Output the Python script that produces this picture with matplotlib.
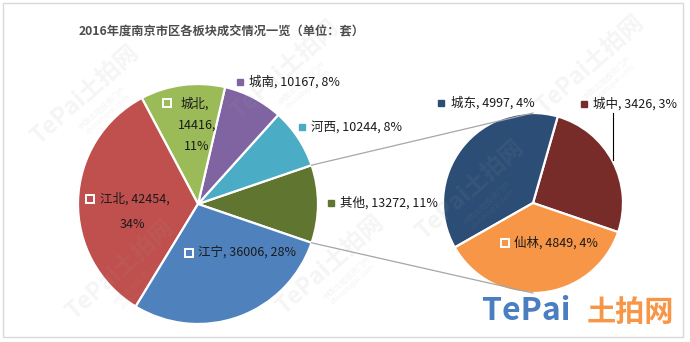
import matplotlib
matplotlib.use('Agg')
import matplotlib.pyplot as plt
import numpy as np
from matplotlib.patches import Rectangle

plt.rcParams['font.family'] = ['Noto Sans CJK SC', 'DejaVu Sans']

title = '2016年度南京市区各板块成交情况一览（单位：套）'
main_labels = ['其他', '河西', '城南', '城北', '江北', '江宁']
main_values = [13272, 10244, 10167, 14416, 42454, 36006]
main_pcts = [11, 8, 8, 11, 34, 28]
main_colors = ['#5F7530', '#4BACC6', '#8064A2', '#9BBB59', '#C0504D', '#4F81BD']
sub_labels = ['城中', '城东', '仙林']
sub_values = [3426, 4997, 4849]
sub_pcts = [3, 4, 4]
sub_colors = ['#772C2A', '#2C4D75', '#F79646']

W, H = 690, 342
fig = plt.figure(figsize=(6.9, 3.42), dpi=100)
ax = fig.add_axes([0, 0, 1, 1])


def Y(py):
    return H - py


# faint watermarks
wm_pos = [(85, 95), (285, 70), (590, 65), (120, 270), (330, 265), (470, 190)]
for (px, py) in wm_pos:
    ax.text(px, Y(py), 'TePai土拍网', rotation=42, fontsize=17, fontweight='bold',
            color='#A0A0A0', alpha=0.10, ha='center', va='center', zorder=5)
    ax.text(px + 20, Y(py + 16), '中国土地投资门户\nchinatupai.com', rotation=42, fontsize=5.5,
            color='#A0A0A0', alpha=0.12, ha='center', va='center', zorder=5, linespacing=1.0)

total = sum(main_values)
other_deg = main_values[0] / total * 360
start = -other_deg / 2
c1 = (198, Y(204)); r1 = 120
c2 = (533, Y(203)); r2 = 90
wp = dict(edgecolor='white', linewidth=1.6)
ax.pie(main_values, colors=main_colors, startangle=start, counterclock=True,
       center=c1, radius=r1, wedgeprops=wp, frame=True)
ax.pie(sub_values, colors=sub_colors, startangle=start, counterclock=True,
       center=c2, radius=r2, wedgeprops=wp, frame=True)

# connector lines
for sgn in (1, -1):
    a = np.deg2rad(sgn * other_deg / 2)
    x0 = c1[0] + r1 * np.cos(a)
    y0 = c1[1] + r1 * np.sin(a)
    ax.plot([x0, c2[0]], [y0, c2[1] + sgn * r2], color='#A6A6A6', lw=0.9, zorder=1)

all_vals = dict(zip(main_labels + sub_labels, main_values + sub_values))
all_pcts = dict(zip(main_labels + sub_labels, main_pcts + sub_pcts))
all_cols = dict(zip(main_labels + sub_labels, main_colors + sub_colors))

# label placements: (marker x, y, text x, y, inside)
lab_pos = {
    '其他': (331, 203, 340, 203, False),
    '河西': (302, 127, 311, 127, False),
    '城南': (240, 82, 249, 82, False),
    '江宁': (189, 253, 198, 253, True),
    '城东': (441, 103, 451, 103, False),
    '城中': (584, 104, 593, 104, False),
    '仙林': (505, 243, 514, 243, True),
}
fs = 9
tc = '#1A1A1A'
for name, (mx, my, tx, ty, inside) in lab_pos.items():
    v = all_vals[name]
    if inside:
        ax.plot(mx, Y(my), 's', ms=6, mfc=all_cols[name], mec='white', mew=1.4, zorder=6)
    else:
        ax.plot(mx, Y(my), 's', ms=4, mfc=all_cols[name], mec=all_cols[name], zorder=6)
    ax.text(tx, Y(ty), f'{name}, {v}, {all_pcts[name]}%', fontsize=fs, color=tc,
            ha='left', va='center', zorder=6)

# multi-line inside labels
v = all_vals['城北']
ax.plot(167, Y(103), 's', ms=6, mfc=all_cols['城北'], mec='white', mew=1.4, zorder=6)
ax.text(181, Y(104), '城北,', fontsize=fs, color=tc, ha='left', va='center', zorder=6)
ax.text(197, Y(125), f'{v},', fontsize=fs, color=tc, ha='center', va='center', zorder=6)
ax.text(197, Y(146), f'{all_pcts["城北"]}%', fontsize=fs, color=tc, ha='center', va='center', zorder=6)

v = all_vals['江北']
ax.plot(90, Y(199), 's', ms=6, mfc=all_cols['江北'], mec='white', mew=1.4, zorder=6)
ax.text(100, Y(199), f'江北, {v},', fontsize=fs, color=tc, ha='left', va='center', zorder=6)
ax.text(132, Y(224), f'{all_pcts["江北"]}%', fontsize=fs, color=tc, ha='center', va='center', zorder=6)

# leader line for 城中
ax.plot([613, 613], [Y(113), Y(160)], color='black', lw=0.8, zorder=6)

# title
ax.text(222, Y(32), title, fontsize=8.8, fontweight='bold', color='#4D4D4D',
        ha='center', va='center', zorder=6)

# logo
ax.text(526, Y(311), 'TePai', fontsize=23, fontweight='bold', color='#4A7EC0',
        ha='center', va='center', zorder=7)
ax.text(630, Y(312), '土拍网', fontsize=21, fontweight='bold', color='#F79646',
        ha='center', va='center', zorder=7)

# border
ax.add_patch(Rectangle((3, Y(337)), 680, 334, fill=False, ec='#D9D9D9', lw=1, zorder=8))

ax.set_xlim(0, W)
ax.set_ylim(0, H)
ax.set_aspect('equal')
ax.axis('off')
fig.savefig('out.png', dpi=100)
